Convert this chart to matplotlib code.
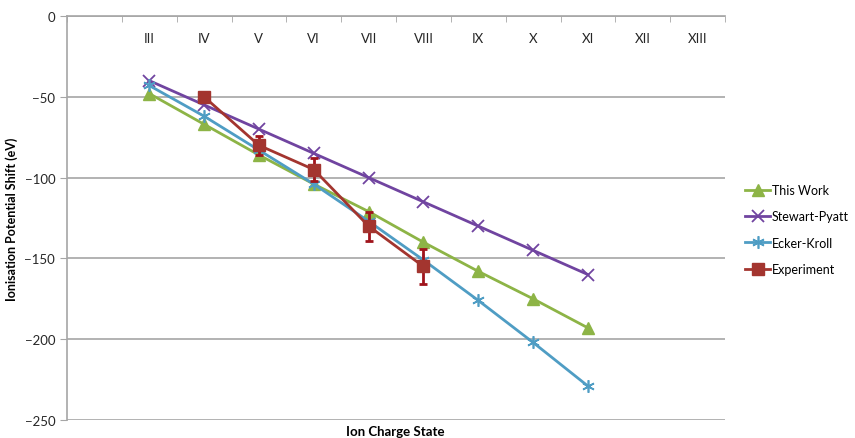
import numpy as np
import matplotlib
matplotlib.use('Agg')
import matplotlib.pyplot as plt
from matplotlib.ticker import FixedLocator
from matplotlib.lines import Line2D

plt.rcParams['font.family'] = ['Lato', 'DejaVu Sans']

# ion charge states (first slot is empty in the original chart)
charge_states = ['', 'III', 'IV', 'V', 'VI', 'VII', 'VIII', 'IX', 'X', 'XI', 'XII', 'XIII']

this_work = [None, -48, -67, -86, -104, -121, -140, -158, -175, -193, None, None]
stewart_pyatt = [None, -40, -55, -70, -85, -100, -115, -130, -145, -160, None, None]
ecker_kroll = [None, -43, -62, -83, -104, -127, -151, -176, -202, -229, None, None]
experiment = [None, None, -50, -80, -95, -130, -155, None, None, None, None, None]
experiment_err = [None, None, 3, 6, 7, 9, 11, None, None, None, None, None]


def to_arr(vals):
    return np.array([np.nan if v is None else v for v in vals], dtype=float)


fig = plt.figure(figsize=(8.55, 4.39), dpi=100)
ax = fig.add_axes([67 / 855, 1 - 421 / 439, (725 - 67) / 855, (421 - 17) / 439])

x = np.arange(len(charge_states))
lw = 2.0

h1, = ax.plot(x, to_arr(this_work), color='#8DB446', lw=lw, marker='^', ms=8,
              label='This Work', zorder=3)
h2, = ax.plot(x, to_arr(stewart_pyatt), color='#7044A0', lw=lw, marker='x', ms=8,
              mew=1.3, label='Stewart-Pyatt', zorder=3)
h3, = ax.plot(x, to_arr(ecker_kroll), color='#4F9DC4', lw=lw, marker=(6, 2, 0), ms=9,
              mew=1.2, label='Ecker-Kroll', zorder=3)
exp = to_arr(experiment)
mask = ~np.isnan(exp)
ax.errorbar(x[mask], exp[mask], yerr=to_arr(experiment_err)[mask], color='#A3352F',
            ecolor='#A0141C', elinewidth=2, capsize=3, capthick=2, lw=lw,
            marker='s', ms=8, zorder=4)
h4 = Line2D([], [], color='#A3352F', lw=lw, marker='s', ms=8, label='Experiment')

ax.set_xlim(-0.5, len(charge_states) - 0.5)
ax.set_ylim(-250, 0)
ax.set_yticks(np.arange(-250, 1, 50))
ax.yaxis.grid(True, color='#A6A6A6', lw=1.2)
ax.set_axisbelow(True)

for s in ['right', 'bottom']:
    ax.spines[s].set_visible(False)
for s in ['left', 'top']:
    ax.spines[s].set_color('#A6A6A6')
    ax.spines[s].set_linewidth(1.2)

ax.xaxis.set_ticks_position('top')
ax.set_xticks(x)
ax.set_xticklabels(charge_states)
ax.xaxis.set_minor_locator(FixedLocator(np.arange(-0.5, len(charge_states), 1.0)))
ax.tick_params(axis='x', which='major', length=0, pad=-20, labelsize=9.5,
               labelcolor='#262626')
ax.tick_params(axis='x', which='minor', direction='in', length=4, color='#A6A6A6')
ax.tick_params(axis='y', length=5, color='#A6A6A6', labelsize=9.5, labelcolor='#262626')

ax.set_ylabel('Ionisation Potential Shift (eV)', fontweight='bold', fontsize=9)
ax.yaxis.set_label_coords((18 - 67) / 658, 0.5)
fig.text(395 / 855, 1 - 432 / 439, 'Ion Charge State', fontweight='bold',
         fontsize=9.5, ha='center', va='center')

fig.legend(handles=[h1, h2, h3, h4], loc='upper left',
           bbox_to_anchor=(740 / 855, 1 - 180 / 439), borderaxespad=0,
           frameon=False, fontsize=9, handlelength=2.0, handletextpad=0.15,
           labelspacing=1.15)

fig.savefig('out.png', dpi=100)
